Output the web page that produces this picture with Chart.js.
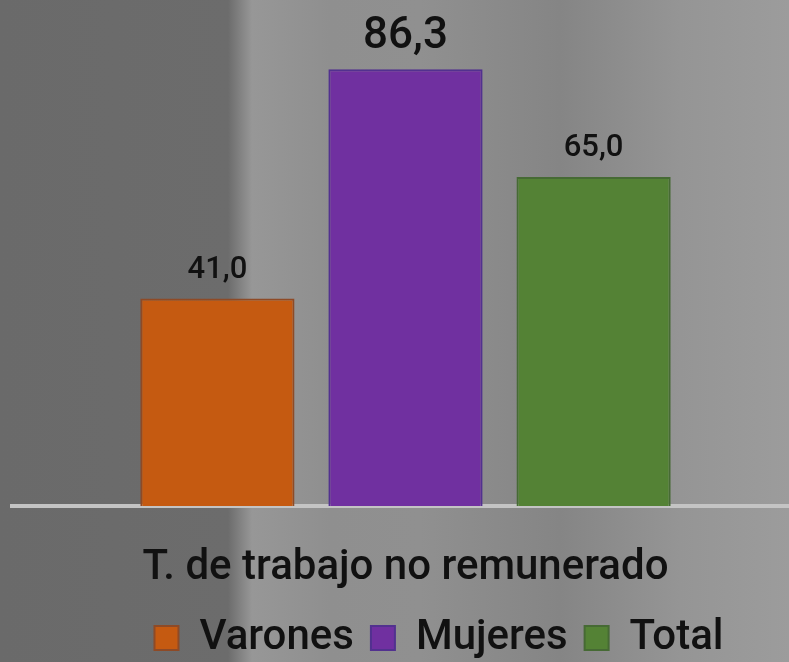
<!DOCTYPE html>
<html>
<head>
<meta charset="utf-8">
<script src="https://cdn.jsdelivr.net/npm/chart.js@4"></script>
<style>
  html, body { margin: 0; padding: 0; }
  body {
    width: 789px; height: 662px; overflow: hidden;
    background: linear-gradient(90deg, #6a6a6a 0px, #6c6c6c 228px, #979797 252px, #8f8f8f 330px, #909090 420px, #858585 560px, #959595 680px, #9c9c9c 789px);
  }
  #wrap { position: relative; width: 878px; height: 662px; }
</style>
</head>
<body>
<div id="wrap"><canvas id="grafico" width="878" height="662"></canvas></div>
<script>
const categorias = ["T. de trabajo no remunerado"];
const series = ["Varones", "Mujeres", "Total"];
const varones = [41.0];
const mujeres = [86.3];
const total = [65.0];
const yMin = 0;
const yMax = 100;

const colores = ["#c55a11", "#7030a0", "#548235"];
const bordes = ["#8e4a26", "#52318f", "#466a34"];

// etiquetas con el valor encima de cada barra (coma decimal)
const etiquetas = {
  id: "etiquetas",
  afterDatasetsDraw(chart) {
    const ctx = chart.ctx;
    const maximo = Math.max(...chart.data.datasets.map((d) => Math.max(...d.data)));
    chart.data.datasets.forEach((ds, i) => {
      chart.getDatasetMeta(i).data.forEach((barra, j) => {
        const v = ds.data[j];
        ctx.save();
        ctx.font = (v === maximo ? "500 44px" : "500 31px") + " Roboto";
        ctx.fillStyle = "#111";
        ctx.textAlign = "center";
        ctx.textBaseline = "alphabetic";
        ctx.fillText(v.toFixed(1).replace(".", ","), barra.x, barra.y - 21);
        ctx.restore();
      });
    });
  }
};

const datos = [varones, mujeres, total];

new Chart(document.getElementById("grafico"), {
  type: "bar",
  data: {
    labels: categorias,
    datasets: series.map((nombre, i) => ({
      label: nombre,
      data: datos[i],
      backgroundColor: colores[i],
      borderColor: bordes[i],
      borderWidth: 2,
      categoryPercentage: 0.717,
      barPercentage: 0.82
    }))
  },
  options: {
    responsive: false,
    animation: false,
    devicePixelRatio: 1,
    layout: { padding: 0 },
    scales: {
      x: {
        grid: { display: false, drawTicks: false },
        border: { display: true, color: "#c4c4c4", width: 4 },
        ticks: { color: "#111", font: { family: "Roboto", size: 42, weight: "500" }, padding: 37 },
        afterFit(scale) { scale.height = 94; }
      },
      y: {
        min: yMin,
        max: yMax,
        grid: { display: false, drawTicks: false },
        border: { display: false },
        ticks: { display: false },
        afterFit(scale) { scale.width = 12; }
      },
      y2: {
        position: "right",
        grid: { display: false, drawTicks: false },
        border: { display: false },
        ticks: { display: false },
        afterFit(scale) { scale.width = 79; }
      }
    },
    plugins: {
      tooltip: { enabled: false },
      legend: {
        position: "bottom",
        maxHeight: 62,
        labels: {
          color: "#111",
          font: { family: "Roboto", size: 42, weight: "500" },
          boxWidth: 24,
          boxHeight: 24,
          padding: 17
        }
      }
    }
  },
  plugins: [etiquetas]
});
</script>
</body>
</html>
